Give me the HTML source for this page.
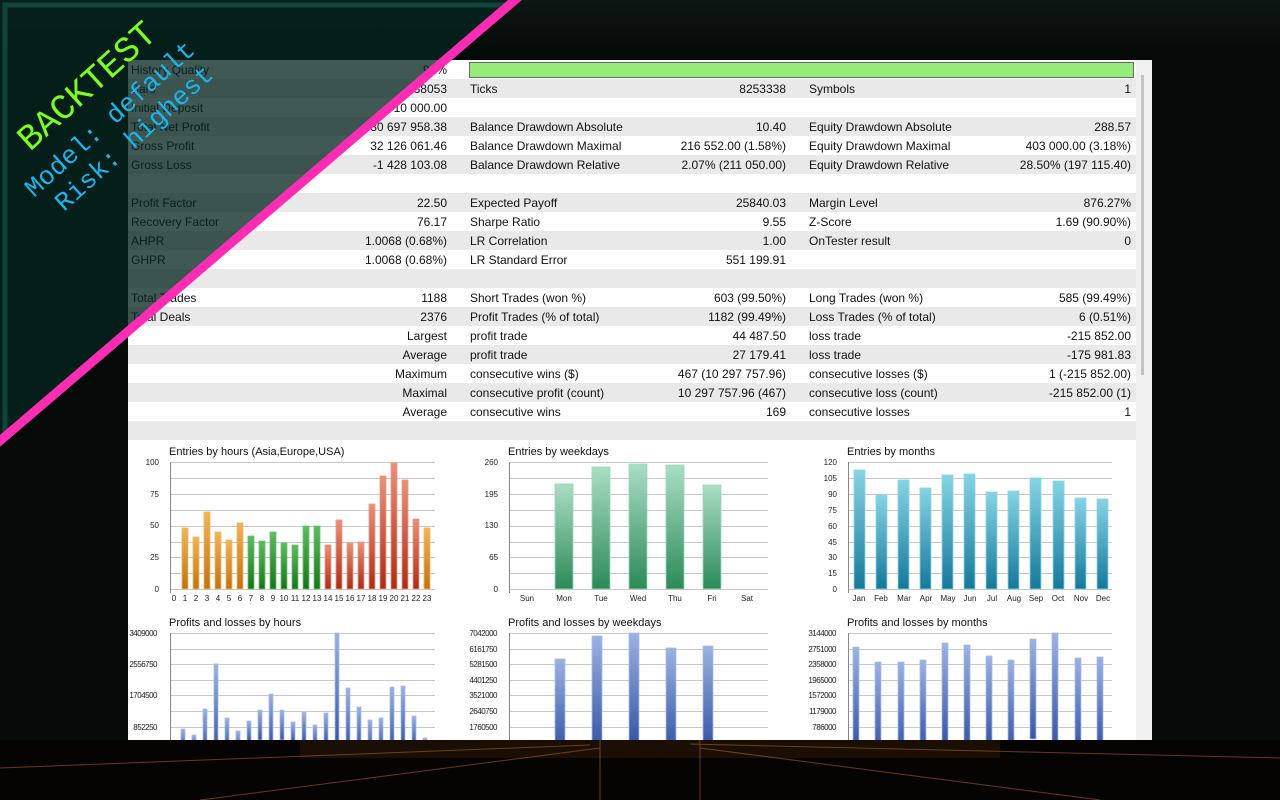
<!DOCTYPE html>
<html><head><meta charset="utf-8"><style>
body{margin:0;width:1280px;height:800px;overflow:hidden;background:#060a09;font-family:"Liberation Sans",Arial,sans-serif}
#panel{position:absolute;left:128px;top:60px;width:1024px;height:680px;background:#fff;overflow:hidden}
.r{position:absolute;left:0;width:1008px;height:19px;font-size:12px;color:#111;line-height:21px}
.g{background:#e9e9e9}
.r span{position:absolute;white-space:nowrap}
.a{left:3px}.b{right:689px;text-align:right}.c{left:342px}.d{right:350px}.e{left:681px}.f{right:5px}
svg text{font-family:"Liberation Sans",Arial,sans-serif}
</style></head><body>
<div style="position:absolute;left:0;top:0;width:1280px;height:60px;background:linear-gradient(#0c1613,#050908)"></div>
<div id="panel">
<div class="r" style="top:0"><span class="a">History Quality</span><span class="b">99%</span></div>
<div style="position:absolute;left:341px;top:2px;width:663px;height:14px;background:#95ec78;border:1px solid #6a6a6a"></div>
<div class="r g" style="top:19px"><span class="a">Bars</span><span class="b">138053</span><span class="c">Ticks</span><span class="d">8253338</span><span class="e">Symbols</span><span class="f">1</span></div>
<div class="r" style="top:38px"><span class="a">Initial Deposit</span><span class="b">10 000.00</span></div>
<div class="r g" style="top:57px"><span class="a">Total Net Profit</span><span class="b">30 697 958.38</span><span class="c">Balance Drawdown Absolute</span><span class="d">10.40</span><span class="e">Equity Drawdown Absolute</span><span class="f">288.57</span></div>
<div class="r" style="top:76px"><span class="a">Gross Profit</span><span class="b">32 126 061.46</span><span class="c">Balance Drawdown Maximal</span><span class="d">216 552.00 (1.58%)</span><span class="e">Equity Drawdown Maximal</span><span class="f">403 000.00 (3.18%)</span></div>
<div class="r g" style="top:95px"><span class="a">Gross Loss</span><span class="b">-1 428 103.08</span><span class="c">Balance Drawdown Relative</span><span class="d">2.07% (211 050.00)</span><span class="e">Equity Drawdown Relative</span><span class="f">28.50% (197 115.40)</span></div>
<div class="r" style="top:114px"></div>
<div class="r g" style="top:133px"><span class="a">Profit Factor</span><span class="b">22.50</span><span class="c">Expected Payoff</span><span class="d">25840.03</span><span class="e">Margin Level</span><span class="f">876.27%</span></div>
<div class="r" style="top:152px"><span class="a">Recovery Factor</span><span class="b">76.17</span><span class="c">Sharpe Ratio</span><span class="d">9.55</span><span class="e">Z-Score</span><span class="f">1.69 (90.90%)</span></div>
<div class="r g" style="top:171px"><span class="a">AHPR</span><span class="b">1.0068 (0.68%)</span><span class="c">LR Correlation</span><span class="d">1.00</span><span class="e">OnTester result</span><span class="f">0</span></div>
<div class="r" style="top:190px"><span class="a">GHPR</span><span class="b">1.0068 (0.68%)</span><span class="c">LR Standard Error</span><span class="d">551 199.91</span></div>
<div class="r g" style="top:209px"></div>
<div class="r" style="top:228px"><span class="a">Total Trades</span><span class="b">1188</span><span class="c">Short Trades (won %)</span><span class="d">603 (99.50%)</span><span class="e">Long Trades (won %)</span><span class="f">585 (99.49%)</span></div>
<div class="r g" style="top:247px"><span class="a">Total Deals</span><span class="b">2376</span><span class="c">Profit Trades (% of total)</span><span class="d">1182 (99.49%)</span><span class="e">Loss Trades (% of total)</span><span class="f">6 (0.51%)</span></div>
<div class="r" style="top:266px"><span class="b">Largest</span><span class="c">profit trade</span><span class="d">44 487.50</span><span class="e">loss trade</span><span class="f">-215 852.00</span></div>
<div class="r g" style="top:285px"><span class="b">Average</span><span class="c">profit trade</span><span class="d">27 179.41</span><span class="e">loss trade</span><span class="f">-175 981.83</span></div>
<div class="r" style="top:304px"><span class="b">Maximum</span><span class="c">consecutive wins ($)</span><span class="d">467 (10 297 757.96)</span><span class="e">consecutive losses ($)</span><span class="f">1 (-215 852.00)</span></div>
<div class="r g" style="top:323px"><span class="b">Maximal</span><span class="c">consecutive profit (count)</span><span class="d">10 297 757.96 (467)</span><span class="e">consecutive loss (count)</span><span class="f">-215 852.00 (1)</span></div>
<div class="r" style="top:342px"><span class="b">Average</span><span class="c">consecutive wins</span><span class="d">169</span><span class="e">consecutive losses</span><span class="f">1</span></div>
<div class="r g" style="top:361px"></div>
<div style="position:absolute;left:1008px;top:0;width:16px;height:680px;background:#f0f0f0"></div>
<div style="position:absolute;left:1013px;top:15px;width:3px;height:300px;background:#c4c4c4"></div>
</div>

<svg width="1280" height="800" style="position:absolute;left:0;top:0" xmlns="http://www.w3.org/2000/svg">
<defs>
<linearGradient id="or" x1="0" y1="0" x2="0" y2="1"><stop offset="0" stop-color="#f2b458"/><stop offset="1" stop-color="#c27210"/></linearGradient>
<linearGradient id="gr" x1="0" y1="0" x2="0" y2="1"><stop offset="0" stop-color="#5fbb5f"/><stop offset="1" stop-color="#16741a"/></linearGradient>
<linearGradient id="rd" x1="0" y1="0" x2="0" y2="1"><stop offset="0" stop-color="#ea907a"/><stop offset="1" stop-color="#ac2c16"/></linearGradient>
<linearGradient id="wg" x1="0" y1="0" x2="0" y2="1"><stop offset="0" stop-color="#aadec4"/><stop offset="1" stop-color="#2c8a58"/></linearGradient>
<linearGradient id="tl" x1="0" y1="0" x2="0" y2="1"><stop offset="0" stop-color="#86d4e4"/><stop offset="1" stop-color="#16789a"/></linearGradient>
<linearGradient id="bl" x1="0" y1="0" x2="0" y2="1"><stop offset="0" stop-color="#9cb2e2"/><stop offset="1" stop-color="#3656a6"/></linearGradient>
</defs>
<g font-size="11" fill="#111">
<text x="169" y="455">Entries by hours (Asia,Europe,USA)</text>
<text x="508" y="455">Entries by weekdays</text>
<text x="847" y="455">Entries by months</text>
<text x="169" y="626">Profits and losses by hours</text>
<text x="508" y="626">Profits and losses by weekdays</text>
<text x="847" y="626">Profits and losses by months</text>
</g>
<g stroke="#c8c8c8" stroke-width="1">
<path d="M170 462.5H435M170 478.5H435M170 494.5H435M170 510.5H435M170 526.5H435M170 542.5H435M170 557.5H435M170 573.5H435M170 589.5H435"/>
<path d="M509 462.5H768M509 478.5H768M509 494.5H768M509 510.5H768M509 526.5H768M509 542.5H768M509 557.5H768M509 573.5H768M509 589.5H768"/>
<path d="M848 462.5H1112M848 478.5H1112M848 494.5H1112M848 510.5H1112M848 526.5H1112M848 542.5H1112M848 557.5H1112M848 573.5H1112M848 589.5H1112"/>
<path d="M170 633.5H435M170 649.5H435M170 664.5H435M170 680.5H435M170 695.5H435M170 711.5H435M170 727.5H435"/>
<path d="M509 633.5H768M509 649.5H768M509 664.5H768M509 680.5H768M509 695.5H768M509 711.5H768M509 727.5H768"/>
<path d="M848 633.5H1112M848 649.5H1112M848 664.5H1112M848 680.5H1112M848 695.5H1112M848 711.5H1112M848 727.5H1112"/>
</g>
<g stroke="#888" stroke-width="1">
<path d="M170.5 462V593M509.5 462V593M848.5 462V593M170.5 633V740M509.5 633V740M848.5 633V740"/>
</g>
<g font-size="8" fill="#222" text-anchor="end">
<text x="159" y="465">100</text><text x="159" y="497">75</text><text x="159" y="528">50</text><text x="159" y="560">25</text><text x="159" y="592">0</text>
<text x="498" y="465">260</text><text x="498" y="497">195</text><text x="498" y="528">130</text><text x="498" y="560">65</text><text x="498" y="592">0</text>
<text x="837" y="465">120</text><text x="837" y="481">105</text><text x="837" y="497">90</text><text x="837" y="513">75</text><text x="837" y="529">60</text><text x="837" y="545">45</text><text x="837" y="560">30</text><text x="837" y="576">15</text><text x="837" y="592">0</text>
<text x="157" y="636" letter-spacing="-0.5">3409000</text><text x="157" y="667" letter-spacing="-0.5">2556750</text><text x="157" y="698" letter-spacing="-0.5">1704500</text><text x="157" y="730" letter-spacing="-0.5">852250</text>
<text x="497" y="636" letter-spacing="-0.5">7042000</text><text x="497" y="652" letter-spacing="-0.5">6161750</text><text x="497" y="667" letter-spacing="-0.5">5281500</text><text x="497" y="683" letter-spacing="-0.5">4401250</text><text x="497" y="698" letter-spacing="-0.5">3521000</text><text x="497" y="714" letter-spacing="-0.5">2640750</text><text x="497" y="730" letter-spacing="-0.5">1760500</text>
<text x="836" y="636" letter-spacing="-0.5">3144000</text><text x="836" y="652" letter-spacing="-0.5">2751000</text><text x="836" y="667" letter-spacing="-0.5">2358000</text><text x="836" y="683" letter-spacing="-0.5">1965000</text><text x="836" y="698" letter-spacing="-0.5">1572000</text><text x="836" y="714" letter-spacing="-0.5">1179000</text><text x="836" y="730" letter-spacing="-0.5">786000</text>
</g>
<g font-size="8" fill="#222" text-anchor="middle">
<text x="174" y="601">0</text><text x="185" y="601">1</text><text x="196" y="601">2</text><text x="207" y="601">3</text><text x="218" y="601">4</text><text x="229" y="601">5</text><text x="240" y="601">6</text><text x="251" y="601">7</text><text x="262" y="601">8</text><text x="273" y="601">9</text><text x="284" y="601">10</text><text x="295" y="601">11</text><text x="306" y="601">12</text><text x="317" y="601">13</text><text x="328" y="601">14</text><text x="339" y="601">15</text><text x="350" y="601">16</text><text x="361" y="601">17</text><text x="372" y="601">18</text><text x="383" y="601">19</text><text x="394" y="601">20</text><text x="405" y="601">21</text><text x="416" y="601">22</text><text x="427" y="601">23</text>
<text x="527" y="601">Sun</text><text x="564" y="601">Mon</text><text x="601" y="601">Tue</text><text x="638" y="601">Wed</text><text x="675" y="601">Thu</text><text x="712" y="601">Fri</text><text x="747" y="601">Sat</text>
<text x="859" y="601">Jan</text><text x="881" y="601">Feb</text><text x="904" y="601">Mar</text><text x="926" y="601">Apr</text><text x="948" y="601">May</text><text x="970" y="601">Jun</text><text x="992" y="601">Jul</text><text x="1014" y="601">Aug</text><text x="1036" y="601">Sep</text><text x="1058" y="601">Oct</text><text x="1081" y="601">Nov</text><text x="1103" y="601">Dec</text>
</g>
<g stroke-width="0.8">
<g fill="url(#or)" stroke="#f0b860">
<rect x="182" y="528" width="6" height="61"/><rect x="193" y="537" width="6" height="52"/><rect x="204" y="512" width="6" height="77"/><rect x="215" y="532" width="6" height="57"/><rect x="226" y="540" width="6" height="49"/><rect x="237" y="523" width="6" height="66"/><rect x="424" y="528" width="6" height="61"/>
</g>
<g fill="url(#gr)" stroke="#6cc46c">
<rect x="248" y="536" width="6" height="53"/><rect x="259" y="541" width="6" height="48"/><rect x="270" y="532" width="6" height="57"/><rect x="281" y="543" width="6" height="46"/><rect x="292" y="545" width="6" height="44"/><rect x="303" y="526" width="6" height="63"/><rect x="314" y="526" width="6" height="63"/>
</g>
<g fill="url(#rd)" stroke="#ee9a86">
<rect x="325" y="545" width="6" height="44"/><rect x="336" y="520" width="6" height="69"/><rect x="347" y="543" width="6" height="46"/><rect x="358" y="542" width="6" height="47"/><rect x="369" y="504" width="6" height="85"/><rect x="380" y="476" width="6" height="113"/><rect x="391" y="463" width="6" height="126"/><rect x="402" y="480" width="6" height="109"/><rect x="413" y="519" width="6" height="70"/>
</g>
<g fill="url(#wg)" stroke="#9ad8b8">
<rect x="555" y="484" width="18" height="105"/><rect x="592" y="467" width="18" height="122"/><rect x="629" y="464" width="18" height="125"/><rect x="666" y="465" width="18" height="124"/><rect x="703" y="485" width="18" height="104"/>
</g>
<g fill="url(#tl)" stroke="#8ad6e6">
<rect x="854" y="470" width="11" height="119"/><rect x="876" y="495" width="11" height="94"/><rect x="898" y="480" width="11" height="109"/><rect x="920" y="488" width="11" height="101"/><rect x="942" y="475" width="11" height="114"/><rect x="964" y="474" width="11" height="115"/><rect x="986" y="492" width="11" height="97"/><rect x="1008" y="491" width="11" height="98"/><rect x="1030" y="478" width="11" height="111"/><rect x="1053" y="481" width="11" height="108"/><rect x="1075" y="498" width="11" height="91"/><rect x="1097" y="499" width="11" height="90"/>
</g>
<g fill="url(#bl)" stroke="#a8bce6">
<rect x="181" y="729" width="4" height="20"/><rect x="192" y="735" width="4" height="14"/><rect x="203" y="709" width="4" height="40"/><rect x="214" y="664" width="4" height="85"/><rect x="225" y="718" width="4" height="30"/><rect x="236" y="731" width="4" height="20"/><rect x="247" y="721" width="4" height="20"/><rect x="258" y="710" width="4" height="30"/><rect x="269" y="694" width="4" height="50"/><rect x="280" y="710" width="4" height="30"/><rect x="291" y="722" width="4" height="20"/><rect x="302" y="712" width="4" height="30"/><rect x="313" y="725" width="4" height="20"/><rect x="324" y="713" width="4" height="30"/><rect x="335" y="633" width="4" height="110"/><rect x="346" y="688" width="4" height="60"/><rect x="357" y="707" width="4" height="40"/><rect x="368" y="720" width="4" height="30"/><rect x="379" y="718" width="4" height="30"/><rect x="390" y="687" width="4" height="60"/><rect x="401" y="686" width="4" height="60"/><rect x="412" y="716" width="4" height="30"/><rect x="423" y="738" width="4" height="10"/>
<rect x="555" y="659" width="10" height="90"/><rect x="592" y="636" width="10" height="110"/><rect x="629" y="633" width="10" height="110"/><rect x="666" y="648" width="10" height="100"/><rect x="703" y="646" width="10" height="100"/>
<rect x="853" y="647" width="6" height="100"/><rect x="875" y="662" width="6" height="90"/><rect x="898" y="662" width="6" height="90"/><rect x="920" y="660" width="6" height="90"/><rect x="942" y="643" width="6" height="100"/><rect x="964" y="645" width="6" height="100"/><rect x="986" y="656" width="6" height="90"/><rect x="1008" y="660" width="6" height="90"/><rect x="1030" y="639" width="6" height="100"/><rect x="1052" y="633" width="6" height="110"/><rect x="1075" y="658" width="6" height="90"/><rect x="1097" y="657" width="6" height="90"/>
</g>
</g>
<!-- bottom decor -->
<rect x="0" y="740" width="1280" height="60" fill="#060403"/>
<rect x="300" y="740" width="700" height="18" fill="#2a1806" opacity="0.6"/>
<g stroke="#b06a20" stroke-width="1" opacity="0.55">
<path d="M0 768L590 745M1280 758L690 744M200 800L600 748M1100 800L700 748M600 740V800M700 740V800"/>
</g>
<!-- overlay triangle -->
<polygon points="0,0 515,0 0,440" fill="#042520" opacity="0.76"/>
<polyline points="5,436 5,5 505,5" fill="none" stroke="#14473e" stroke-width="5" opacity="0.9"/>
<line x1="522" y1="-6" x2="-6" y2="446" stroke="#ff2db4" stroke-width="9"/>
<g>
<text x="0" y="0" font-size="36" fill="#7dff1e" transform="translate(30,152) rotate(-42)" style="font-family:'Liberation Mono',monospace">BACKTEST</text>
<text x="0" y="0" font-size="26" fill="#1ab6ee" transform="translate(34,198) rotate(-42)" style="font-family:'Liberation Mono',monospace">Model: default</text>
<text x="0" y="0" font-size="26" fill="#1ab6ee" transform="translate(64,212) rotate(-42)" style="font-family:'Liberation Mono',monospace">Risk: highest</text>
</g>
</svg>
</body></html>
